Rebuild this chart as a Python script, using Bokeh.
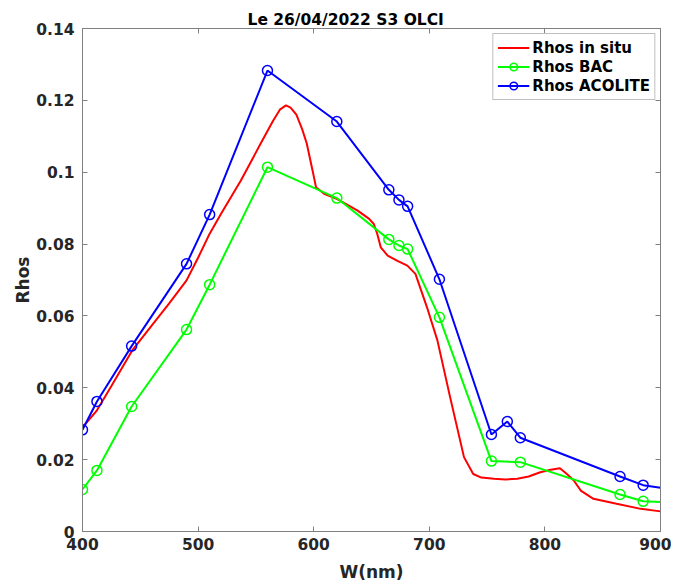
from bokeh.plotting import figure
from bokeh.models import (Range1d, LinearAxis, FixedTicker, NumeralTickFormatter, Legend,
                          LegendItem, CustomJSTickFormatter)
from bokeh.embed import file_html
from bokeh.resources import INLINE

# ---- data ----
insitu_wl = [400, 412, 425, 443, 460, 475, 490, 500, 510, 520, 537, 554, 565, 571, 576, 580,
             585, 590, 594, 599, 602, 609, 620, 638, 648, 652, 655, 658, 664, 672, 681, 688,
             698, 707, 718, 730, 738, 745, 756, 766, 776, 786, 796, 805, 813, 819, 825, 831,
             842, 862, 883, 900]
insitu_val = [0.0290, 0.0335, 0.0405, 0.0504, 0.0574, 0.0635, 0.0699, 0.0762, 0.0829, 0.0885,
              0.0977, 0.1079, 0.1144, 0.1175, 0.1186, 0.1180, 0.1160, 0.1120, 0.1080, 0.1005,
              0.0958, 0.0940, 0.0926, 0.0893, 0.0870, 0.0856, 0.0828, 0.0791, 0.0768, 0.0754,
              0.0740, 0.0717, 0.0624, 0.0532, 0.0374, 0.0207, 0.0160, 0.0150, 0.0147, 0.0145,
              0.0147, 0.0153, 0.0165, 0.0172, 0.0176, 0.0160, 0.0142, 0.0114, 0.0091, 0.0077,
              0.0063, 0.0056]

bands = [400, 412.5, 442.5, 490, 510, 560, 620, 665, 673.75, 681.25, 708.75, 753.75,
         778.75, 865, 885, 900]
bac_val = [0.0117, 0.0170, 0.0348, 0.0562, 0.0687, 0.1014, 0.0928, 0.0813, 0.0796, 0.0786,
           0.0596, 0.0196, 0.0193, 0.0103, 0.0084, 0.0082]

acolite_bands = [400, 412.5, 442.5, 490, 510, 560, 620, 665, 673.75, 681.25, 708.75, 753.75,
                 767.5, 778.75, 865, 885, 900]
acolite_val = [0.0283, 0.0362, 0.0516, 0.0745, 0.0882, 0.1283, 0.1141, 0.0951, 0.0923, 0.0905,
               0.0702, 0.0270, 0.0306, 0.0261, 0.0153, 0.0129, 0.0122]

x_ticks = [400, 500, 600, 700, 800, 900]
y_ticks = [0, 0.02, 0.04, 0.06, 0.08, 0.1, 0.12, 0.14]

title_text = "Le 26/04/2022 S3 OLCI"
x_label = "W(nm)"
y_label = "Rhos"
series_names = ["Rhos in situ", "Rhos BAC", "Rhos ACOLITE"]

FONT = "DejaVu Sans"
AX = "#808080"
TXT = "#262626"

p = figure(width=671, height=584, output_backend="svg", toolbar_location=None,
           x_range=Range1d(400, 900), y_range=Range1d(0, 0.14),
           min_border_left=82, min_border_right=11, min_border_top=28, min_border_bottom=53)
p.background_fill_color = "white"
p.border_fill_color = "white"
p.outline_line_color = AX
p.outline_line_width = 1
p.xgrid.visible = False
p.ygrid.visible = False

p.title.text = title_text
p.title.align = "left"
p.title.offset = 165
p.title.text_font = FONT
p.title.text_font_size = "15.5px"
p.title.text_font_style = "bold"
p.title.text_color = "black"
p.title.standoff = 0

def style_axis(ax):
    ax.axis_line_color = AX
    ax.major_tick_line_color = AX
    ax.minor_tick_line_color = None
    ax.major_tick_in = 5
    ax.major_tick_out = 0
    ax.major_label_text_font = FONT
    ax.major_label_text_font_style = "bold"
    ax.major_label_text_color = TXT
    ax.major_label_text_font_size = "15.5px"
    ax.axis_label_text_font = FONT
    ax.axis_label_text_font_style = "bold"
    ax.axis_label_text_color = TXT
    ax.axis_label_text_font_size = "17px"

xa = p.xaxis[0]
xa.ticker = FixedTicker(ticks=x_ticks)
xa.axis_label = x_label
xa.major_label_standoff = 6
xa.axis_label_standoff = 9
style_axis(xa)

ya = p.yaxis[0]
ya.ticker = FixedTicker(ticks=y_ticks)
ya.formatter = NumeralTickFormatter(format="0.[00]")
ya.axis_label = y_label
ya.major_label_standoff = 8
ya.axis_label_standoff = 0
style_axis(ya)

blank = CustomJSTickFormatter(code="return ''")
top_ax = LinearAxis(ticker=FixedTicker(ticks=x_ticks), formatter=blank, major_label_standoff=0)
style_axis(top_ax)
p.add_layout(top_ax, "above")
right_ax = LinearAxis(ticker=FixedTicker(ticks=y_ticks), formatter=blank, major_label_standoff=0)
style_axis(right_ax)
p.add_layout(right_ax, "right")

r_insitu = p.line(insitu_wl, insitu_val, line_color="#ff0000", line_width=2)
r_bac_l = p.line(bands, bac_val, line_color="#00ff00", line_width=2)
r_bac_m = p.scatter(bands[:-1], bac_val[:-1], marker="circle", size=10, line_color="#00ff00",
                    line_width=1.5, fill_color=None)
r_aco_l = p.line(acolite_bands, acolite_val, line_color="#0000ff", line_width=2)
r_aco_m = p.scatter(acolite_bands[:-1], acolite_val[:-1], marker="circle", size=10,
                    line_color="#0000ff", line_width=1.5, fill_color=None)

legend = Legend(items=[
    LegendItem(label=series_names[0], renderers=[r_insitu]),
    LegendItem(label=series_names[1], renderers=[r_bac_l, r_bac_m]),
    LegendItem(label=series_names[2], renderers=[r_aco_l, r_aco_m]),
], location="top_right")
legend.margin = 5
legend.padding = 4
legend.spacing = 0
legend.glyph_width = 32
legend.glyph_height = 19
legend.label_standoff = 3
legend.label_height = 19
legend.label_text_font = FONT
legend.label_text_font_style = "bold"
legend.label_text_font_size = "15px"
legend.label_text_color = "black"
legend.border_line_color = AX
legend.border_line_width = 1
legend.background_fill_color = "white"
legend.background_fill_alpha = 1
p.add_layout(legend, "center")

open("out.html", "w").write(file_html(p, INLINE))
